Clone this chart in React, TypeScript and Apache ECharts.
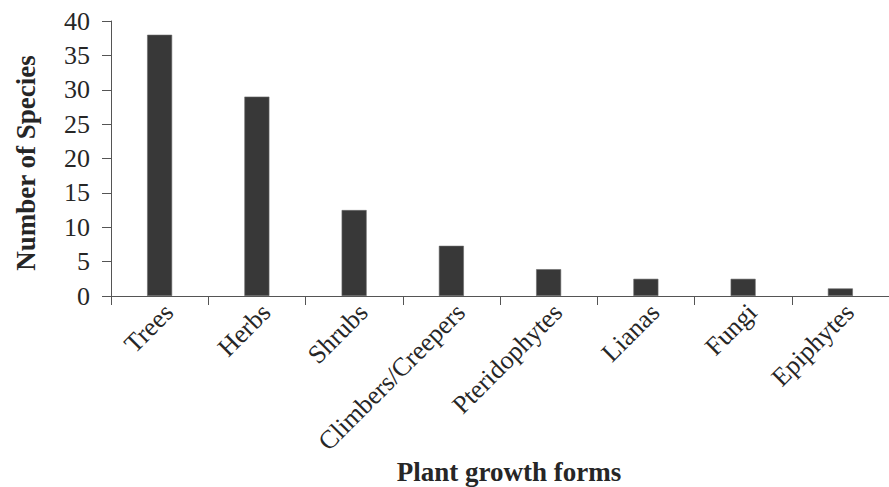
import React, { useEffect, useRef } from "react";
import * as echarts from "echarts";

const categories = [
  "Trees",
  "Herbs",
  "Shrubs",
  "Climbers/Creepers",
  "Pteridophytes",
  "Lianas",
  "Fungi",
  "Epiphytes",
];
const speciesCounts = [38, 29, 12.5, 7.3, 3.9, 2.5, 2.5, 1.1];
const yTicks = { min: 0, max: 40, interval: 5 };
const xTitle = "Plant growth forms";
const yTitle = "Number of Species";

const FONT = "'Liberation Serif', 'Times New Roman', serif";
const TEXT = "#262626";

export default function App() {
  const ref = useRef<HTMLDivElement>(null);
  useEffect(() => {
    document.body.style.margin = "0";
    document.body.style.overflow = "hidden";
    const chart = echarts.init(ref.current!, undefined, { renderer: "svg" });
    chart.setOption({
      animation: false,
      backgroundColor: "#ffffff",
      grid: { left: 111, top: 21, bottom: 191, right: -8, containLabel: false },
      xAxis: {
        type: "category",
        data: categories,
        boundaryGap: true,
        axisLine: { show: true, lineStyle: { color: "#555", width: 1 } },
        axisTick: { show: true, inside: false, length: 9, alignWithLabel: false, lineStyle: { color: "#555" } },
        axisLabel: {
          rotate: 45,
          interval: 0,
          margin: 3,
          verticalAlign: "top",
          fontFamily: FONT,
          fontSize: 26,
          color: TEXT,
        },
        splitLine: { show: false },
      },
      yAxis: {
        type: "value",
        min: yTicks.min,
        max: yTicks.max,
        interval: yTicks.interval,
        axisLine: { show: true, lineStyle: { color: "#555", width: 1 } },
        axisTick: { show: true, inside: false, length: 9, lineStyle: { color: "#555" } },
        axisLabel: { margin: 21, fontFamily: FONT, fontSize: 26, color: TEXT },
        splitLine: { show: false },
      },
      series: [
        {
          type: "bar",
          data: speciesCounts,
          barWidth: 25,
          itemStyle: { color: "#383838", borderColor: "#6a6a6a", borderWidth: 0.6 },
        },
      ],
      graphic: [
        {
          type: "text",
          x: 509,
          y: 472,
          style: {
            text: xTitle,
            fontFamily: FONT,
            fontWeight: "bold",
            fontSize: 27,
            fill: TEXT,
            textAlign: "center",
            textVerticalAlign: "middle",
          },
        },
        {
          type: "text",
          x: 26,
          y: 163,
          rotation: Math.PI / 2,
          style: {
            text: yTitle,
            fontFamily: FONT,
            fontWeight: "bold",
            fontSize: 27,
            fill: TEXT,
            textAlign: "center",
            textVerticalAlign: "middle",
          },
        },
      ],
    });
    return () => chart.dispose();
  }, []);
  return <div ref={ref} style={{ width: 889, height: 487 }} />;
}
